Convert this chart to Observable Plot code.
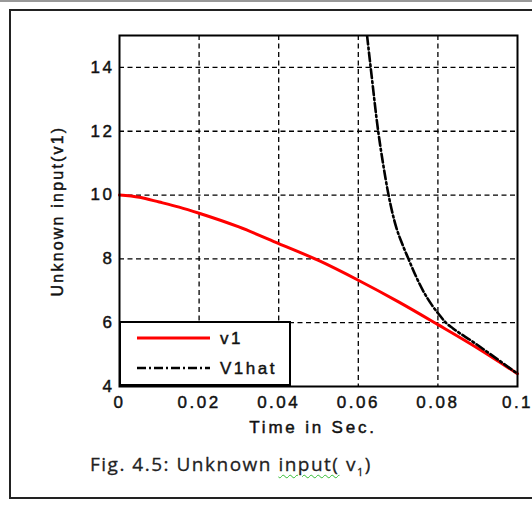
<!DOCTYPE html>
<html>
<head>
<meta charset="utf-8">
<script src="https://cdn.jsdelivr.net/npm/d3@7"></script>
<script src="https://cdn.jsdelivr.net/npm/@observablehq/plot@0.6"></script>
<style>
  html, body { margin: 0; padding: 0; background: #fff; }
  #page { position: relative; width: 532px; height: 505px; overflow: hidden; background: #fff; }
  #chart svg text, #legend svg text { letter-spacing: 2.5px; stroke: #111; stroke-width: 0.45px; }
  .lbl { position: absolute; font-family: "Liberation Sans", Arial, sans-serif; color: #111; white-space: nowrap; -webkit-text-stroke: 0.45px #111; }
</style>
</head>
<body>
<div id="page">
  <div id="chart" style="position:absolute;left:0;top:0;"></div>
  <div style="position:absolute;left:0;top:0;width:532px;height:0;border-top:2px solid #999;"></div>
  <div style="position:absolute;left:9px;top:9px;width:540px;height:486px;border:2px solid #222;"></div>
  <div id="legend" style="position:absolute;left:119px;top:321px;width:172px;height:65px;box-sizing:border-box;border:2px solid #000;background:#fff;"></div>
  <div class="lbl" id="ylabel" style="left:58px;top:211px;font-size:16px;letter-spacing:2.2px;transform:translate(-50%,-50%) rotate(-90deg);">Unknown input(v1)</div>
  <div class="lbl" id="xlabel" style="left:313px;top:428px;font-size:17px;letter-spacing:2.8px;transform:translate(-50%,-50%);">Time in Sec.</div>
  <div class="lbl" id="caption" style="left:90px;top:451px;font-family:'Open Sans',sans-serif;font-size:19px;letter-spacing:1.5px;color:#222;-webkit-text-stroke:0.3px #222;">Fig. 4.5: Unknown <span style="text-decoration:underline wavy #3b3;text-decoration-thickness:1px;text-underline-offset:3px;-webkit-text-stroke:0.3px #222;">input(</span> v<sub style="font-size:11px;">1</sub>)</div>
</div>
<script>
// ---- data ----
const v1Time  = [0, 0.005, 0.01, 0.015, 0.02, 0.03, 0.04, 0.05, 0.06, 0.07, 0.08, 0.09, 0.1];
const v1Value = [10, 9.93, 9.78, 9.62, 9.43, 9.0, 8.48, 7.95, 7.33, 6.66, 5.94, 5.2, 4.4];

const v1hatTime  = [0.0622, 0.0632, 0.065, 0.0662, 0.0676, 0.0695, 0.071, 0.0726, 0.0745, 0.0765, 0.0785, 0.0802, 0.082, 0.0838, 0.0888, 0.095, 0.1];
const v1hatValue = [15, 13.9, 12, 11, 10, 9.0, 8.48, 8.0, 7.45, 6.95, 6.55, 6.27, 6.0, 5.82, 5.4, 4.85, 4.4];

const xTicks = [0, 0.02, 0.04, 0.06, 0.08, 0.1];
const xTickLabels = ["0", "0.02", "0.04", "0.06", "0.08", "0.1"];
const yTicks = [4, 6, 8, 10, 12, 14];
const yTickLabels = ["4", "6", "8", "10", "12", "14"];

const seriesNames = ["v1", "V1hat"];
const seriesColors = ["#ff0000", "#000000"];
const seriesDash = [null, "9,3,2,3"];

const v1Data = v1Time.map((t, i) => ({t, v: v1Value[i]}));
const v1hatData = v1hatTime.map((t, i) => ({t, v: v1hatValue[i]}));

const chart = Plot.plot({
  width: 532,
  height: 440,
  marginTop: 35,
  marginLeft: 119,
  marginRight: 15,
  marginBottom: 54,
  style: {background: "transparent", fontFamily: "'Liberation Sans', Arial, sans-serif", fontSize: "17px", color: "#111"},
  x: {domain: [0, 0.1]},
  y: {domain: [4, 15]},
  marks: [
    Plot.gridX(xTicks.slice(1, -1), {stroke: "#000", strokeOpacity: 1, strokeWidth: 1.3, strokeDasharray: "5,3.5"}),
    Plot.gridY(yTicks.slice(1), {stroke: "#000", strokeOpacity: 1, strokeWidth: 1.3, strokeDasharray: "5,3.5"}),
    Plot.line(v1Data, {x: "t", y: "v", stroke: seriesColors[0], strokeWidth: 3, curve: "monotone-x"}),
    Plot.line(v1hatData, {x: "t", y: "v", stroke: seriesColors[1], strokeWidth: 2.6, strokeDasharray: seriesDash[1], curve: "monotone-x", clip: true}),
    Plot.frame({stroke: "#000", strokeWidth: 2}),
    Plot.axisX(xTicks, {tickSize: 0, tickPadding: 9, label: null, fontSize: 17, tickFormat: d => xTickLabels[xTicks.indexOf(d)]}),
    Plot.axisY(yTicks, {tickSize: 0, tickPadding: 5, label: null, fontSize: 17, tickFormat: d => yTickLabels[yTicks.indexOf(d)]})
  ]
});
document.getElementById("chart").appendChild(chart);

// legend
const leg = d3.select("#legend").append("svg").attr("width", 168).attr("height", 61).style("position", "absolute").style("left", "0").style("top", "0");
seriesNames.forEach((name, i) => {
  const y = 15 + i * 30;
  const ln = leg.append("line").attr("x1", 16).attr("x2", 89).attr("y1", y).attr("y2", y)
    .attr("stroke", seriesColors[i]).attr("stroke-width", i === 0 ? 3 : 2.6);
  if (seriesDash[i]) ln.attr("stroke-dasharray", seriesDash[i]);
  leg.append("text").attr("x", 99).attr("y", y).attr("dy", "0.36em")
    .attr("font-family", "'Liberation Sans', Arial, sans-serif").attr("font-size", 17)
    .attr("fill", "#111").text(name);
});
</script>
</body>
</html>
